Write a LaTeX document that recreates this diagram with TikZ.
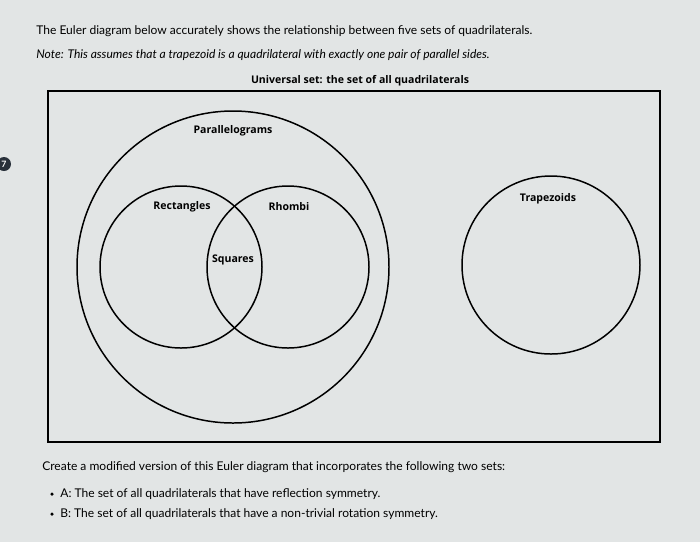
\documentclass[tikz,border=0pt]{standalone}
\usepackage{fontspec}
\setmainfont{Lato}
\newfontfamily\labelfont{Open Sans}
\usepackage{tikz}
\usetikzlibrary{positioning}
\definecolor{paper}{RGB}{226,229,229}
\definecolor{badge}{RGB}{40,48,58}

\tikzset{
    setcircle/.style={circle, draw, line width=0.85pt, inner sep=0pt},
    setlabel/.style={font=\labelfont\bfseries\fontsize{6}{7}\selectfont, inner sep=1pt},
    bodytext/.style={anchor=west, inner sep=0pt, font=\fontsize{6.85}{8}\selectfont},
}

\begin{document}
\begin{tikzpicture}
    \fill[paper] (0,0) rectangle (14,-10.84);
    \useasboundingbox (0,0) rectangle (14,-10.84);

    % question text
    \node[bodytext] (intro) at (0.72,-0.62) {The Euler diagram below accurately shows the relationship between five sets of quadrilaterals.};
    \node[bodytext] (note) at (0.72,-1.1) {\itshape Note: This assumes that a trapezoid is a quadrilateral with exactly one pair of parallel sides.};

    \node[circle, fill=badge, minimum size=0.28cm, inner sep=0pt, text=white, font=\bfseries\fontsize{5}{5}\selectfont] (num) at (0.08,-3.28) {7};

    % universal set
    \node[setlabel] (univ) at (7.2,-1.62) {Universal set: the set of all quadrilaterals};
    \draw[line width=1.4pt] (0.96,-1.82) rectangle (13.2,-8.84);

    % sets
    \node[setcircle, minimum size=6.24cm] (par) at (4.66,-5.34) {};
    \node[setcircle, minimum size=3.24cm] (rect) at (3.62,-5.34) {};
    \node[setcircle, minimum size=3.24cm] (rho) at (5.76,-5.34) {};
    \node[setcircle, minimum size=3.56cm] (trap) at (11.02,-5.3) {};

    \node[setlabel] (parlab) at (4.66,-2.62) {Parallelograms};
    \node[setlabel] (rectlab) at (3.64,-4.14) {Rectangles};
    \node[setlabel] (rholab) at (5.78,-4.14) {Rhombi};
    \node[setlabel] (sqlab) at (4.66,-5.2) {Squares};
    \node[setlabel] (traplab) at (10.96,-3.98) {Trapezoids};

    % task
    \node[bodytext] (task) at (0.84,-9.34) {Create a modified version of this Euler diagram that incorporates the following two sets:};
    \node[bodytext] (seta) at (1.2,-9.88) {A: The set of all quadrilaterals that have reflection symmetry.};
    \node[bodytext] (setb) at (1.2,-10.28) {B: The set of all quadrilaterals that have a non-trivial rotation symmetry.};
    \fill (seta.west) ++(-0.16,0) circle (0.035);
    \fill (setb.west) ++(-0.16,0) circle (0.035);
\end{tikzpicture}
\end{document}
